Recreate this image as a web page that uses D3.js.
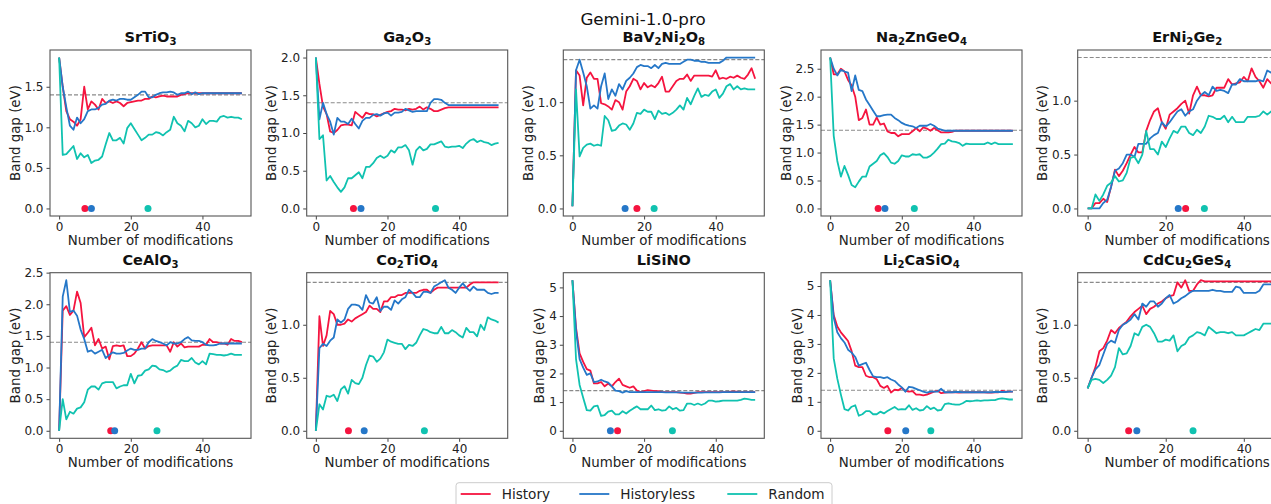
<!DOCTYPE html>
<html>
<head>
<meta charset="utf-8">
<script src="https://cdn.jsdelivr.net/npm/d3@7"></script>
<style>
  html, body { margin: 0; padding: 0; background: #fff; }
  svg { display: block; font-family: "DejaVu Sans", sans-serif; }
</style>
</head>
<body>
<svg id="chart" width="1271" height="504"></svg>
<script>
// ---------------- DATA ----------------
const figureTitle = "Gemini-1.0-pro";
const titles = ["SrTiO_3", "Ga_2O_3", "BaV_2Ni_2O_8", "Na_2ZnGeO_4", "ErNi_2Ge_2",
                "CeAlO_3", "Co_2TiO_4", "LiSiNO", "Li_2CaSiO_4", "CdCu_2GeS_4"];
const seriesNames = ["History", "Historyless", "Random"];
const targetGap = 1.4;
const xTicks = [0, 20, 40];
const yTicks = [
  [0, 0.5, 1.0, 1.5],
  [0, 0.5, 1.0, 1.5, 2.0],
  [0, 0.5, 1.0],
  [0, 0.5, 1.0, 1.5, 2.0, 2.5],
  [0, 0.5, 1.0],
  [0, 0.5, 1.0, 1.5, 2.0, 2.5],
  [0, 0.5, 1.0],
  [0, 1, 2, 3, 4, 5],
  [0, 1, 2, 3, 4, 5],
  [0, 0.5, 1.0]
];

const history = [
  [1.86,1.50,1.20,1.10,1.07,1.02,1.10,1.50,1.22,1.32, 1.28,1.22,1.35,1.30,1.32,1.30,1.32,1.30,1.26,1.30, 1.31,1.32,1.33,1.33,1.35,1.35,1.38,1.37,1.38,1.39, 1.38,1.38,1.38,1.38,1.40,1.41,1.42,1.42,1.42,1.42, 1.42,1.42,1.42,1.42,1.42,1.42,1.42,1.42,1.42,1.42,1.42,1.42],
  [2.00,1.65,1.35,1.25,1.02,1.00,1.04,1.10,1.11,1.11, 1.10,1.28,1.24,1.20,1.27,1.25,1.25,1.22,1.24,1.26, 1.28,1.29,1.32,1.31,1.31,1.30,1.32,1.31,1.32,1.35, 1.31,1.34,1.32,1.29,1.29,1.31,1.33,1.34,1.34,1.34, 1.34,1.34,1.34,1.34,1.34,1.34,1.34,1.34,1.34,1.34,1.34,1.34],
  [0.02,1.30,1.25,0.97,1.23,1.28,1.22,1.22,0.99,0.98, 0.96,0.93,1.02,1.00,0.93,1.10,1.15,1.22,1.20,1.12, 1.18,1.14,1.16,1.14,1.18,1.24,1.10,1.10,1.15,1.20, 1.22,1.22,1.26,1.20,1.25,1.25,1.25,1.25,1.25,1.24, 1.30,1.22,1.23,1.22,1.24,1.23,1.25,1.23,1.22,1.26,1.32,1.22],
  [2.70,2.40,2.40,2.50,2.45,2.30,2.20,2.00,1.58,1.62, 1.77,1.50,1.50,1.63,1.50,1.52,1.38,1.35,1.35,1.29, 1.33,1.33,1.33,1.38,1.44,1.38,1.45,1.43,1.39,1.44, 1.40,1.36,1.36,1.36,1.37,1.39,1.39,1.39,1.39,1.39, 1.39,1.39,1.39,1.39,1.39,1.39,1.39,1.39,1.39,1.39,1.39,1.39],
  [0.00,0.00,0.05,0.05,0.09,0.06,0.20,0.36,0.30,0.35, 0.42,0.50,0.57,0.52,0.52,0.72,0.82,0.90,0.93,0.80, 0.74,0.87,0.90,0.93,0.97,1.00,0.88,1.05,1.13,1.05, 1.05,1.04,1.05,1.12,1.12,1.12,1.20,1.15,1.16,1.17, 1.22,1.18,1.30,1.22,1.18,1.12,1.20,1.16,1.18,1.20,1.20,1.22],
  [0.00,1.90,1.97,1.83,1.90,2.20,2.02,1.48,1.55,1.63, 1.35,1.45,1.30,1.33,1.13,1.34,1.35,1.34,1.35,1.18, 1.18,1.22,1.30,1.40,1.30,1.34,1.35,1.35,1.35,1.35, 1.35,1.25,1.40,1.33,1.38,1.32,1.33,1.33,1.33,1.33, 1.36,1.36,1.45,1.40,1.40,1.38,1.38,1.36,1.45,1.42,1.42,1.40],
  [0.00,1.08,0.80,0.90,1.13,1.10,1.00,1.00,1.01,1.05, 1.03,1.06,1.08,1.10,1.12,1.18,1.15,1.15,1.12,1.22, 1.22,1.26,1.26,1.28,1.28,1.30,1.30,1.30,1.30,1.32, 1.33,1.33,1.30,1.33,1.35,1.35,1.35,1.35,1.35,1.35, 1.35,1.35,1.35,1.38,1.40,1.40,1.40,1.40,1.40,1.40,1.40,1.40],
  [5.25,3.60,2.70,2.40,2.15,2.10,1.65,1.65,1.70,1.55, 1.65,1.55,1.70,1.82,1.60,1.55,1.50,1.55,1.40,1.35, 1.38,1.42,1.40,1.38,1.38,1.35,1.35,1.35,1.35,1.35, 1.33,1.32,1.30,1.30,1.32,1.35,1.35,1.35,1.35,1.35, 1.35,1.35,1.35,1.35,1.36,1.36,1.36,1.35,1.35,1.35,1.35,1.35],
  [5.20,4.00,3.60,3.40,3.25,3.10,2.75,2.25,2.20,2.20, 1.90,1.85,1.85,1.78,1.55,1.48,1.55,1.32,1.42,1.40, 1.48,1.38,1.35,1.37,1.25,1.25,1.22,1.25,1.30,1.35, 1.38,1.30,1.32,1.33,1.33,1.33,1.32,1.33,1.33,1.33, 1.33,1.33,1.33,1.33,1.32,1.32,1.33,1.33,1.38,1.35,1.35,1.35],
  [0.40,0.50,0.60,0.75,0.78,0.85,0.95,0.92,0.97,1.00, 1.03,1.08,1.12,1.15,1.18,1.10,1.15,1.17,1.20,1.22, 1.25,1.27,1.28,1.40,1.35,1.42,1.32,1.32,1.38,1.42, 1.41,1.41,1.41,1.41,1.41,1.41,1.41,1.41,1.41,1.41, 1.41,1.41,1.41,1.41,1.41,1.41,1.41,1.41,1.41,1.41,1.41,1.41]
];

const historyless = [
  [1.86,1.50,1.25,1.02,0.97,1.12,1.05,1.10,1.20,1.22, 1.22,1.24,1.28,1.29,1.33,1.34,1.33,1.35,1.35,1.34, 1.34,1.37,1.40,1.44,1.44,1.37,1.37,1.40,1.42,1.43, 1.43,1.44,1.43,1.40,1.42,1.42,1.44,1.41,1.43,1.41, 1.42,1.42,1.42,1.42,1.42,1.42,1.42,1.42,1.42,1.42,1.42,1.42],
  [2.00,1.18,1.40,1.25,1.15,0.98,1.20,1.15,1.15,1.12, 1.19,1.12,1.06,1.16,1.20,1.20,1.24,1.25,1.23,1.26, 1.27,1.23,1.27,1.27,1.28,1.32,1.30,1.28,1.29,1.29, 1.29,1.29,1.40,1.45,1.45,1.44,1.40,1.37,1.37,1.37, 1.37,1.37,1.37,1.37,1.37,1.37,1.37,1.37,1.37,1.37,1.37,1.37],
  [0.02,1.30,1.40,1.28,1.15,0.94,0.97,0.94,1.15,1.27, 1.03,1.12,1.06,1.17,1.12,1.20,1.23,1.27,1.33,1.35, 1.34,1.34,1.32,1.35,1.32,1.36,1.37,1.36,1.36,1.36, 1.36,1.38,1.40,1.40,1.39,1.39,1.38,1.38,1.37,1.37, 1.37,1.37,1.39,1.42,1.42,1.42,1.42,1.42,1.42,1.42,1.42,1.42],
  [2.70,2.50,2.38,2.48,2.45,2.43,2.10,2.38,2.12,2.10, 1.95,1.85,1.75,1.65,1.65,1.67,1.68,1.68,1.62,1.58, 1.53,1.50,1.48,1.47,1.44,1.48,1.48,1.48,1.51,1.48, 1.43,1.41,1.39,1.39,1.39,1.39,1.39,1.39,1.39,1.39, 1.39,1.39,1.39,1.39,1.39,1.39,1.39,1.39,1.39,1.39,1.39,1.39],
  [0.00,0.00,0.00,0.00,0.05,0.08,0.20,0.35,0.37,0.42, 0.50,0.50,0.48,0.60,0.60,0.60,0.65,0.68,0.70,0.80, 0.76,0.80,0.85,0.90,0.92,0.86,0.90,0.92,1.00,1.05, 1.08,1.05,1.13,1.09,1.10,1.09,1.07,1.15,1.15,1.20, 1.18,1.18,1.18,1.18,1.19,1.18,1.28,1.26,1.26,1.26,1.26,1.26],
  [0.00,2.12,2.38,1.88,1.90,1.82,1.60,1.45,1.25,1.27, 1.22,1.25,1.28,1.15,1.20,1.24,1.22,1.22,1.23,1.27, 1.30,1.28,1.28,1.30,1.30,1.40,1.45,1.42,1.40,1.38, 1.35,1.40,1.38,1.38,1.40,1.45,1.48,1.43,1.42,1.42, 1.40,1.36,1.35,1.35,1.36,1.38,1.38,1.38,1.38,1.38,1.38,1.38],
  [0.00,0.78,0.82,0.80,0.85,0.88,1.05,1.02,1.05,1.15, 1.19,1.19,1.18,1.14,1.28,1.21,1.20,1.26,1.13,1.17, 1.17,1.14,1.23,1.20,1.24,1.26,1.33,1.30,1.26,1.26, 1.31,1.31,1.30,1.36,1.38,1.40,1.42,1.35,1.33,1.30, 1.35,1.39,1.35,1.32,1.36,1.33,1.33,1.33,1.30,1.29,1.30,1.30],
  [5.25,3.50,2.50,2.20,1.95,2.00,1.70,1.72,1.78,1.72, 1.68,1.55,1.40,1.38,1.33,1.38,1.35,1.35,1.35,1.35, 1.35,1.35,1.35,1.35,1.35,1.35,1.34,1.34,1.34,1.34, 1.34,1.33,1.33,1.33,1.33,1.33,1.33,1.34,1.34,1.34, 1.34,1.34,1.35,1.35,1.35,1.35,1.35,1.35,1.35,1.35,1.35,1.35],
  [5.20,3.90,3.40,3.20,3.05,2.80,2.70,2.55,2.25,2.30, 2.35,2.10,1.88,1.85,1.85,1.82,1.85,1.77,1.72,1.60, 1.50,1.35,1.52,1.50,1.45,1.40,1.35,1.32,1.35,1.35, 1.35,1.45,1.33,1.33,1.33,1.34,1.34,1.33,1.33,1.33, 1.33,1.33,1.33,1.33,1.33,1.33,1.34,1.34,1.34,1.34,1.35,1.35],
  [0.40,0.50,0.58,0.62,0.72,0.82,0.85,0.83,0.95,1.00, 1.02,1.05,1.10,1.05,1.20,1.17,1.22,1.22,1.17,1.20, 1.25,1.28,1.20,1.22,1.25,1.27,1.30,1.32,1.32,1.32, 1.32,1.32,1.33,1.32,1.32,1.31,1.31,1.31,1.36,1.35, 1.30,1.30,1.30,1.30,1.32,1.38,1.38,1.38,1.39,1.39,1.39,1.39]
];

const random = [
  [1.86,0.66,0.67,0.72,0.77,0.61,0.68,0.63,0.66,0.56, 0.59,0.60,0.64,0.79,0.93,0.84,0.84,0.87,0.80,0.99, 1.05,0.98,0.91,0.84,0.87,0.91,0.91,0.94,0.93,0.90, 0.94,0.97,1.13,1.05,1.02,0.95,1.08,1.05,1.00,1.02, 1.10,1.04,1.08,1.08,1.07,1.13,1.14,1.12,1.13,1.12,1.12,1.10],
  [2.00,0.92,0.97,0.37,0.43,0.35,0.28,0.22,0.28,0.40, 0.40,0.44,0.48,0.40,0.55,0.55,0.60,0.67,0.70,0.67, 0.70,0.77,0.74,0.81,0.81,0.84,0.77,0.58,0.77,0.82, 0.77,0.79,0.85,0.85,0.87,0.89,0.82,0.81,0.82,0.82, 0.83,0.80,0.86,0.90,0.92,0.88,0.90,0.88,0.87,0.84,0.86,0.87],
  [0.02,1.12,0.49,0.57,0.60,0.61,0.59,0.60,0.59,0.87, 0.83,0.73,0.74,0.78,0.80,0.79,0.74,0.80,0.90,0.89, 0.93,0.91,0.91,0.84,0.92,0.89,0.90,0.88,0.90,0.93, 0.97,0.93,1.04,0.98,1.06,1.13,1.05,1.07,1.06,1.10, 1.12,1.04,1.08,1.15,1.17,1.12,1.15,1.12,1.13,1.12,1.12,1.12],
  [2.70,1.30,0.85,0.57,0.76,0.60,0.42,0.38,0.48,0.57, 0.57,0.75,0.80,0.85,0.95,0.99,0.92,0.82,0.80,0.85, 0.95,0.93,0.93,0.97,0.96,0.97,0.91,0.91,0.94,1.00, 1.07,1.15,1.16,1.23,1.20,1.19,1.17,1.12,1.16,1.15, 1.15,1.15,1.15,1.15,1.18,1.15,1.18,1.15,1.15,1.15,1.15,1.15],
  [0.00,0.00,0.13,0.07,0.13,0.21,0.24,0.30,0.25,0.26, 0.33,0.47,0.48,0.42,0.50,0.72,0.55,0.55,0.50,0.62, 0.57,0.65,0.72,0.70,0.76,0.76,0.70,0.68,0.73,0.70, 0.76,0.86,0.85,0.83,0.83,0.86,0.80,0.85,0.80,0.80, 0.80,0.85,0.85,0.85,0.86,0.90,0.87,0.90,0.90,0.90,0.90,0.90],
  [0.00,0.50,0.18,0.30,0.27,0.35,0.37,0.45,0.65,0.70, 0.70,0.65,0.75,0.77,0.77,0.77,0.67,0.70,0.72,0.72, 0.90,0.75,0.87,0.88,0.95,0.97,1.03,1.02,0.97,0.96, 0.93,0.95,1.00,1.03,1.12,1.10,1.10,1.15,1.08,1.05, 1.10,1.05,1.22,1.21,1.20,1.20,1.19,1.20,1.22,1.20,1.20,1.20],
  [0.00,0.25,0.20,0.33,0.32,0.34,0.28,0.39,0.42,0.35, 0.48,0.45,0.44,0.50,0.62,0.71,0.70,0.65,0.68,0.74, 0.86,0.84,0.83,0.82,0.82,0.77,0.81,0.80,0.83,0.90, 0.96,0.95,0.93,0.92,0.92,0.98,0.92,0.92,0.95,0.93, 0.90,0.88,0.97,0.93,0.93,0.89,1.00,0.95,1.07,1.05,1.04,1.02],
  [5.25,2.50,1.60,1.15,0.72,0.70,0.85,0.88,0.52,0.55, 0.67,0.70,0.57,0.57,0.68,0.60,0.70,0.78,0.85,0.75, 0.75,0.75,0.88,0.72,0.75,0.70,0.72,0.85,0.75,0.80, 0.70,0.72,0.95,0.95,0.90,0.95,0.90,0.95,1.05,1.05, 1.02,1.03,1.05,1.05,1.05,1.05,1.05,1.08,1.12,1.10,1.08,1.08],
  [5.20,2.50,1.80,1.25,0.75,0.70,0.83,0.88,0.52,0.57, 0.68,0.68,0.57,0.57,0.66,0.60,0.68,0.75,0.82,0.73, 0.75,0.74,0.88,0.72,0.78,0.70,0.72,0.85,0.75,0.80, 0.70,0.72,0.92,0.95,0.92,0.90,0.90,0.95,1.03,1.02, 1.03,1.05,1.03,1.05,1.05,1.06,1.06,1.10,1.12,1.10,1.08,1.08],
  [0.40,0.48,0.49,0.48,0.45,0.48,0.52,0.60,0.78,0.72, 0.73,0.80,0.92,0.90,0.98,1.00,0.98,0.92,0.84,0.84, 0.86,0.85,0.90,0.75,0.80,0.82,0.88,0.90,0.93,0.92, 0.90,0.98,0.95,0.92,0.93,0.93,0.92,0.93,0.90,0.90, 0.90,0.92,0.94,0.96,0.95,1.01,1.01,1.01,1.01,1.01,1.01,1.01]
];

// Mean number of modifications to reach target (dots at y = 0)
const dotsHistory     = [7.2, 10.5, 18.0, 13.4, 25.1, 14.4,  9.1, 12.6, 16.1, 10.5];
const dotsHistoryless = [9.0, 12.6, 14.7, 15.3, 23.2, 15.5, 13.5, 10.6, 21.1, 12.6];
const dotsRandom      = [24.8, 33.4, 22.8, 23.5, 29.9, 27.3, 30.3, 27.9, 28.1, 27.0];

// ---------------- STYLE / LAYOUT ----------------
const colors = ["#f5143f", "#2577c8", "#10c2b0"];
const colLefts = [50, 306.7, 563.3, 821, 1077.7];
const colWidths = [201, 201, 201, 201, 219];
const rowTops = [50, 272.7];
const rowHeights = [166, 165.6];

const svg = d3.select("#chart");

svg.append("text")
  .attr("x", 643).attr("y", 25)
  .attr("text-anchor", "middle")
  .attr("font-size", "16.7px")
  .attr("fill", "#111")
  .text(figureTitle);

function addSubscripted(sel, str, size) {
  const parts = str.split(/(_\d)/).filter(s => s.length);
  parts.forEach(p => {
    if (p[0] === "_") {
      sel.append("tspan").attr("font-size", (size * 0.7) + "px").attr("dy", 3.2).text(p.slice(1));
    } else {
      sel.append("tspan").attr("font-size", size + "px").attr("dy", sel.node().childNodes.length ? -3.2 : 0).text(p);
    }
  });
}

titles.forEach((title, k) => {
  const row = Math.floor(k / 5), col = k % 5;
  const w = colWidths[col], h = rowHeights[row];
  const g = svg.append("g").attr("transform", `translate(${colLefts[col]},${rowTops[row]})`);

  const sets = [history[k], historyless[k], random[k]];
  const dots = [dotsHistory[k], dotsHistoryless[k], dotsRandom[k]];
  const n = d3.max(sets, s => s.length) - 1;
  const x = d3.scaleLinear().domain([-0.05 * n, n * 1.05]).range([0, w]);

  const allVals = sets.flat().concat([0, targetGap]);
  const lo = d3.min(allVals), hi = d3.max(allVals);
  const pad = 0.05 * (hi - lo);
  const y = d3.scaleLinear().domain([lo - pad, hi + pad]).range([h, 0]);

  const clipId = "clip" + k;
  g.append("clipPath").attr("id", clipId).append("rect").attr("width", w).attr("height", h);

  // x axis
  const xa = g.append("g").attr("transform", `translate(0,${h})`)
    .call(d3.axisBottom(x).tickValues(xTicks).tickSize(3.5).tickPadding(2.5).tickFormat(d3.format("d")));
  // y axis
  const allInt = yTicks[k].every(v => Number.isInteger(v));
  const ya = g.append("g")
    .call(d3.axisLeft(y).tickValues(yTicks[k]).tickSize(3.5).tickPadding(3).tickFormat(d3.format(allInt ? "d" : ".1f")));
  [xa, ya].forEach(a => {
    a.select(".domain").remove();
    a.selectAll("text").attr("font-size", "12px").attr("fill", "#222").attr("font-family", "DejaVu Sans");
    a.selectAll("line").attr("stroke", "#444");
  });

  // target dashed line
  g.append("line")
    .attr("x1", 0).attr("x2", w)
    .attr("y1", y(targetGap)).attr("y2", y(targetGap))
    .attr("stroke", "#8a8a8a").attr("stroke-width", 1.1)
    .attr("stroke-dasharray", "4,2");

  const plot = g.append("g").attr("clip-path", `url(#${clipId})`);
  const line = d3.line().x((d, i) => x(i)).y(d => y(d));
  sets.forEach((s, j) => {
    plot.append("path").datum(s)
      .attr("d", line).attr("fill", "none")
      .attr("stroke", colors[j]).attr("stroke-width", 1.8)
      .attr("stroke-linejoin", "round");
  });
  dots.forEach((d, j) => {
    plot.append("circle").attr("cx", x(d)).attr("cy", y(0)).attr("r", 3.5).attr("fill", colors[j]);
  });

  // frame
  g.append("rect").attr("width", w).attr("height", h)
    .attr("fill", "none").attr("stroke", "#555").attr("stroke-width", 1.1);

  // title
  const t = g.append("text").attr("x", w / 2).attr("y", -5)
    .attr("text-anchor", "middle").attr("font-weight", "bold").attr("fill", "#111");
  addSubscripted(t, title, 14.5);

  // axis labels
  const maxW = d3.max(ya.selectAll("text").nodes(), nd => nd.getComputedTextLength());
  g.append("text")
    .attr("transform", `translate(${-(6.5 + maxW + 9.5)},${h / 2}) rotate(-90)`)
    .attr("text-anchor", "middle").attr("dy", "0.35em")
    .attr("font-size", "13.4px").attr("fill", "#222")
    .text("Band gap (eV)");
  g.append("text")
    .attr("x", x(n / 2)).attr("y", h + 29)
    .attr("text-anchor", "middle")
    .attr("font-size", "13.4px").attr("fill", "#222")
    .text("Number of modifications");
});

// legend
const leg = svg.append("g").attr("transform", "translate(456,482.7)");
leg.append("rect").attr("width", 376).attr("height", 30).attr("rx", 3)
  .attr("fill", "#fff").attr("stroke", "#cccccc").attr("stroke-width", 1);
const legX = [4.7, 123.3, 271.3];
seriesNames.forEach((name, j) => {
  leg.append("line").attr("x1", legX[j]).attr("x2", legX[j] + 30)
    .attr("y1", 11.3).attr("y2", 11.3)
    .attr("stroke", colors[j]).attr("stroke-width", 1.8);
  leg.append("text").attr("x", legX[j] + 41).attr("y", 11.3).attr("dy", "0.35em")
    .attr("font-size", "13.6px").attr("fill", "#222").text(name);
});
</script>
</body>
</html>
